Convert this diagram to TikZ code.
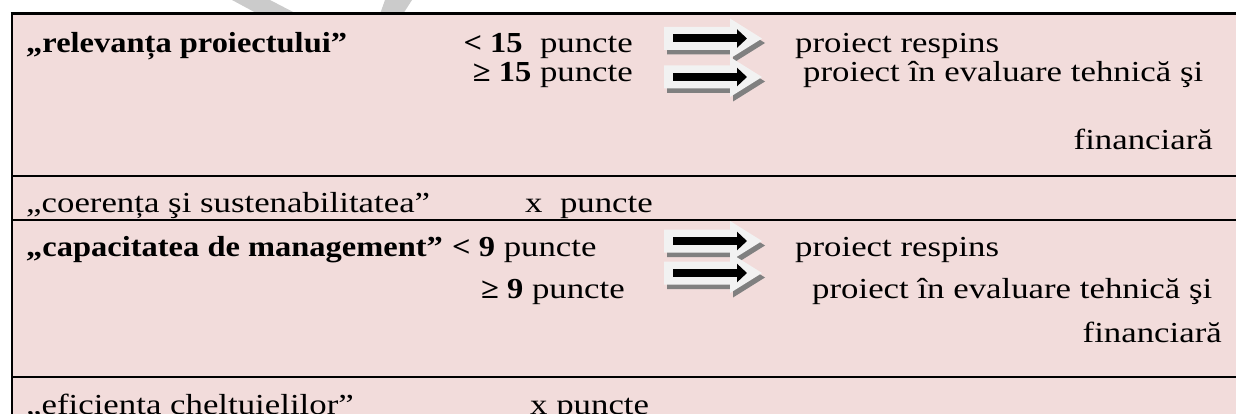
\documentclass[tikz,border=0pt]{standalone}
\usepackage{fontspec}
\setmainfont{Liberation Serif}[FakeStretch=1.2, BoldFeatures={FakeStretch=1.12}]
\usetikzlibrary{arrows.meta}
\definecolor{cellpink}{HTML}{F2DCDB}
\definecolor{arrowfill}{HTML}{F2F2F2}
\definecolor{arrowshadow}{HTML}{808080}
\definecolor{wmgray}{HTML}{CBCBCB}
\newcommand\blockarrow[2]{%
  \coordinate (#1) at (664,#2);
  \fill[arrowshadow, shift={(667,#2+4.5)}] (0,-11.5) -- (66,-11.5) -- (66,-20) -- (98,0) -- (66,20) -- (66,11.5) -- (0,11.5) -- cycle;
  \fill[arrowfill, shift={(664,#2)}] (0,-11.5) -- (66,-11.5) -- (66,-20) -- (98,0) -- (66,20) -- (66,11.5) -- (0,11.5) -- cycle;
  \draw[blackarrow] ([xshift=9pt]#1) -- ([xshift=83pt]#1);
}
\begin{document}
\begin{tikzpicture}[x=1pt,y=-1pt,
  txt/.style={inner sep=0pt, font=\fontsize{29}{33}\selectfont},
  boldtxt/.style={inner sep=0pt, font=\fontsize{29}{33}\selectfont\bfseries},
  frame/.style={line width=2.8pt},
  rowrule/.style={line width=2.1pt},
  blackarrow/.style={line width=8pt, -{Triangle[length=10pt,width=18pt]}},
]
\useasboundingbox (0,0) rectangle (1236,414);
% watermark fragments
\fill[wmgray] (232,0) -- (270,0) -- (297,14) -- (258,14) -- cycle;
\fill[wmgray] (385,0) -- (412,0) -- (403,14) -- (380,14) -- cycle;
% table background
\fill[cellpink] (12,13.5) rectangle (1240,420);
% rules
\draw[frame] (10.6,13.5) -- (1240,13.5);
\draw[frame] (12,13.5) -- (12,420);
\draw[rowrule] (12,176) -- (1240,176);
\draw[rowrule] (12,220) -- (1240,220);
\draw[rowrule] (12,377) -- (1240,377);
% arrows
\blockarrow{ra}{38.5}
\blockarrow{rb}{77}
\blockarrow{ma}{241}
\blockarrow{mb}{273}
% row 1
\node[boldtxt, anchor=base west] (relev) at (26,53) {„relevanța proiectului”};
\node[txt, anchor=base east] (rlt) at (633,53) {\textbf{< 15}\ \ puncte};
\node[txt, anchor=base east] (rge) at (633,82) {\textbf{≥ 15} puncte};
\node[txt, anchor=base west] (rresp) at (795,53) {proiect respins};
\node[txt, anchor=base west] (reval) at (803,82) {proiect în evaluare tehnică şi};
\node[txt, anchor=base east] (rfin) at (1213,150) {financiară};
% row 2
\node[txt, anchor=base west] (coer) at (26,212) {„coerența şi sustenabilitatea”};
\node[txt, anchor=base west] (cx) at (525,212) {x\ \ puncte};
% row 3
\node[boldtxt, anchor=base west] (capac) at (26,256) {„capacitatea de management”};
\node[txt, anchor=base west] (mlt) at (452,256) {\textbf{< 9} puncte};
\node[txt, anchor=base east] (mge) at (625,298) {\textbf{≥ 9} puncte};
\node[txt, anchor=base west] (mresp) at (795,256) {proiect respins};
\node[txt, anchor=base west] (meval) at (812,298) {proiect în evaluare tehnică şi};
\node[txt, anchor=base east] (mfin) at (1222,342) {financiară};
% row 4
\node[txt, anchor=base west] (efic) at (26,414) {„eficiența cheltuielilor”};
\node[txt, anchor=base west] (ex) at (530,414) {x puncte};
\end{tikzpicture}
\end{document}
